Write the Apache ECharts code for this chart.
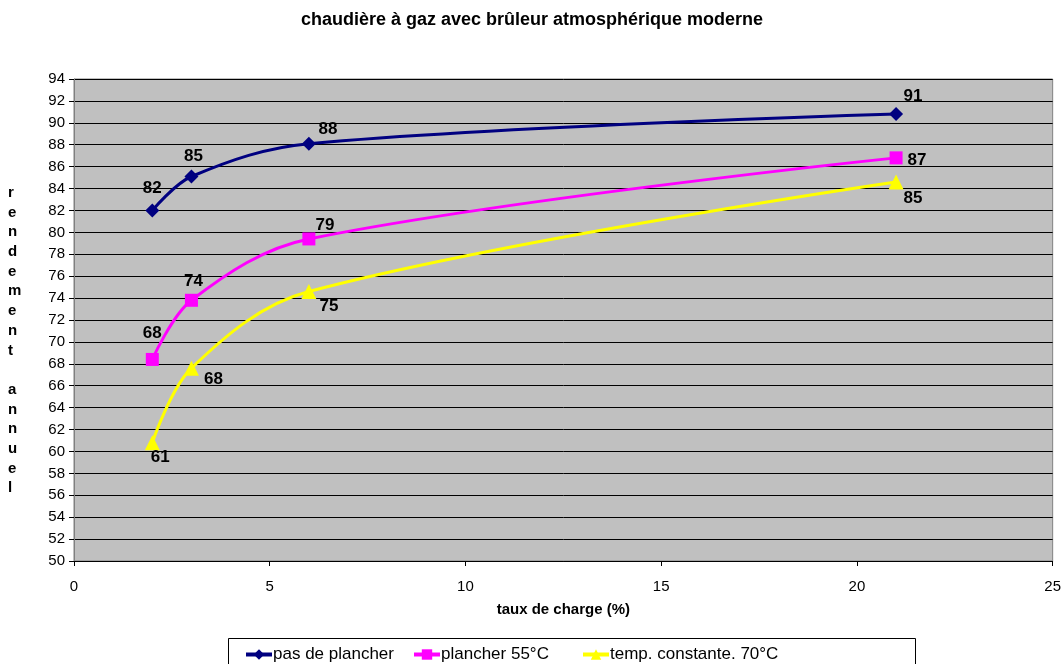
<!DOCTYPE html>
<html>
<head>
<meta charset="utf-8">
<script src="https://cdn.jsdelivr.net/npm/echarts@6/dist/echarts.min.js"></script>
<style>
  html, body { margin: 0; padding: 0; background: #fff; }
  #chart { width: 1064px; height: 664px; }
</style>
</head>
<body>
<div id="chart"></div>
<script>
// Charge rate (%) at which each boiler setup was measured
const loadRates = [2, 3, 6, 21];

// Annual efficiency (%) per installation type
const seriesNames = ['pas de plancher', 'plancher 55°C', 'temp. constante. 70°C'];
const noFloor = [82.0, 85.1, 88.1, 90.8];
const floor55 = [68.4, 73.8, 79.4, 86.8];
const constant70 = [60.8, 67.6, 74.6, 84.6];

const yTitle = 'rendement annuel';
const xTitle = 'taux de charge (%)';
const chartTitle = 'chaudière à gaz avec brûleur atmosphérique moderne';

const FONT = '"Liberation Sans", Arial, sans-serif';

// Where each value label sits around its marker (offsets in px)
const labelOffsets = [
  [[0, -22], [2, -20], [19, -14], [17, -18]],
  [[0, -26], [2, -19], [16, -14], [21, 2]],
  [[8, 15], [22, 11], [20, 15], [17, 16]]
];

function pairs(values) {
  return values.map((v, i) => [loadRates[i], v]);
}

function makeSeries(name, values, color, symbol, size, offsets) {
  return {
    name: name,
    type: 'line',
    smooth: 0.35,
    data: pairs(values).map((p, i) => ({
      value: p,
      label: { offset: offsets[i] }
    })),
    symbol: symbol,
    symbolSize: size,
    showAllSymbol: true,
    lineStyle: { color: color, width: 3 },
    itemStyle: { color: color, borderWidth: 0 },
    label: {
      show: true,
      position: 'inside',
      color: '#000',
      fontFamily: FONT,
      fontWeight: 'bold',
      fontSize: 17,
      formatter: (p) => String(Math.round(p.value[1]))
    },
    emphasis: { disabled: true },
    z: 3
  };
}

const chart = echarts.init(document.getElementById('chart'), null, { renderer: 'canvas' });

const legendBase = {
  top: 646,
  itemWidth: 26,
  itemHeight: 13,
  itemGap: 0,
  lineStyle: { width: 4 },
  textStyle: { fontFamily: FONT, fontSize: 17, color: '#000', padding: [0, 0, 0, -4] },
  padding: 0
};

chart.setOption({
  animation: false,
  backgroundColor: '#fff',
  title: {
    text: chartTitle,
    left: 'center',
    top: 6,
    textStyle: { fontFamily: FONT, fontWeight: 'bold', fontSize: 18, color: '#000' }
  },
  grid: {
    left: 74, right: 8, top: 79, bottom: 103,
    show: true,
    backgroundColor: '#c0c0c0',
    borderColor: '#808080',
    borderWidth: 1
  },
  xAxis: {
    type: 'value',
    min: 0, max: 25, interval: 5,
    name: xTitle,
    nameLocation: 'middle',
    nameGap: 41,
    nameTextStyle: { fontFamily: FONT, fontWeight: 'bold', fontSize: 15, color: '#000' },
    axisLine: { show: true, lineStyle: { color: '#000', width: 1 } },
    axisTick: { show: true, length: 5, lineStyle: { color: '#000' } },
    axisLabel: { fontFamily: FONT, fontSize: 15, color: '#000', margin: 18 },
    splitLine: { show: false }
  },
  yAxis: {
    type: 'value',
    min: 50, max: 94, interval: 2,
    axisLine: { show: true, lineStyle: { color: '#808080', width: 1 } },
    axisTick: { show: true, length: 5, lineStyle: { color: '#000' } },
    axisLabel: { fontFamily: FONT, fontSize: 15, color: '#000', margin: 9 },
    splitLine: { show: true, lineStyle: { color: '#000', width: 1 } }
  },
  legend: [
    Object.assign({}, legendBase, { left: 244, data: [seriesNames[0]] }),
    Object.assign({}, legendBase, { left: 412, data: [seriesNames[1]] }),
    Object.assign({}, legendBase, { left: 581, data: [seriesNames[2]] })
  ],
  graphic: [
    {
      type: 'rect',
      shape: { x: 228.5, y: 638.5, width: 687, height: 40 },
      style: { fill: 'transparent', stroke: '#000', lineWidth: 1 },
      silent: true
    },
    {
      type: 'text',
      left: 8,
      top: 183,
      style: {
        text: yTitle.split('').join('\n'),
        fontFamily: FONT,
        fontWeight: 'bold',
        fontSize: 15,
        lineHeight: 19.7,
        align: 'center',
        fill: '#000'
      },
      silent: true
    }
  ],
  series: [
    makeSeries(seriesNames[0], noFloor, '#000080', 'diamond', 14, labelOffsets[0]),
    makeSeries(seriesNames[1], floor55, '#ff00ff', 'rect', 13, labelOffsets[1]),
    makeSeries(seriesNames[2], constant70, '#ffff00', 'triangle', 15, labelOffsets[2])
  ]
});
</script>
</body>
</html>
